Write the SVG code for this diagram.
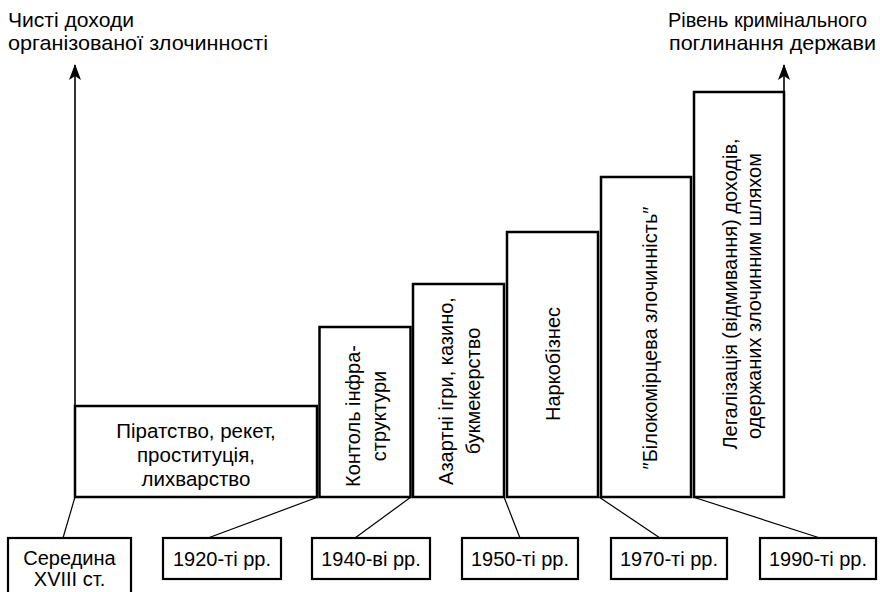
<svg xmlns="http://www.w3.org/2000/svg" width="880" height="592" viewBox="0 0 880 592">
<style>
text{font-family:"Liberation Sans",Arial,sans-serif;fill:#000}
.t{font-size:20px}
.b1{font-size:20.5px}
.h{font-size:21px}
.c{text-anchor:middle}
.box{fill:#fff;stroke:#000;stroke-width:2.5}
.lbl{fill:#fff;stroke:#000;stroke-width:2.2}
.ln{stroke:#000;stroke-width:1.2;fill:none}
.ax{stroke:#000;stroke-width:1.6;fill:none}
</style>
<defs>
<marker id="arr" viewBox="0 0 16 12" refX="15" refY="6" markerWidth="16" markerHeight="12" markerUnits="userSpaceOnUse" orient="auto">
<path d="M0,0 L16,6 L0,12 L4,6 Z" fill="#000"/>
</marker>
</defs>
<rect width="880" height="592" fill="#fff"/>
<g id="connectors">
<line class="ax" x1="75" y1="497" x2="75" y2="65" marker-end="url(#arr)"/>
<line class="ax" x1="784" y1="92" x2="784" y2="65" marker-end="url(#arr)"/>
<line class="ln" x1="75" y1="497" x2="63" y2="538"/>
<line class="ln" x1="318" y1="497" x2="208" y2="538"/>
<line class="ln" x1="411" y1="497" x2="355" y2="538"/>
<line class="ln" x1="504" y1="497" x2="520" y2="538"/>
<line class="ln" x1="599" y1="497" x2="660" y2="538"/>
<line class="ln" x1="693" y1="497" x2="820" y2="538"/>
</g>
<g id="axis-y-title">
<text class="h" x="8" y="27" textLength="126" lengthAdjust="spacingAndGlyphs">Чисті доходи</text>
<text class="h" x="8" y="50" textLength="260" lengthAdjust="spacingAndGlyphs">організованої злочинності</text>
</g>
<g id="axis-right-title">
<text class="h" x="668" y="27" textLength="199" lengthAdjust="spacingAndGlyphs">Рівень кримінального</text>
<text class="h" x="669" y="50" textLength="207" lengthAdjust="spacingAndGlyphs">поглинання держави</text>
</g>
<g id="box1">
<rect class="box" x="75" y="406" width="242" height="91"/>
<text class="b1 c" x="196" y="438">Піратство, рекет,</text>
<text class="b1 c" x="196" y="462">проституція,</text>
<text class="b1 c" x="196" y="486">лихварство</text>
</g>
<g id="box2">
<rect class="box" x="319.5" y="327" width="91" height="170"/>
<text class="t c" transform="translate(360,416) rotate(-90)">Контоль інфра-</text>
<text class="t c" transform="translate(386,416) rotate(-90)">структури</text>
</g>
<g id="box3">
<rect class="box" x="413" y="284" width="91" height="213"/>
<text class="t c" transform="translate(453,391) rotate(-90)">Азартні ігри, казино,</text>
<text class="t c" transform="translate(480,391) rotate(-90)">букмекерство</text>
</g>
<g id="box4">
<rect class="box" x="507" y="232" width="91" height="265"/>
<text class="t c" transform="translate(560,364) rotate(-90)">Наркобізнес</text>
</g>
<g id="box5">
<rect class="box" x="601" y="177" width="90" height="320"/>
<text class="t c" transform="translate(657,338) rotate(-90)">″Білокомірцева злочинність″</text>
</g>
<g id="box6">
<rect class="box" x="694" y="92" width="90" height="405"/>
<text class="t c" transform="translate(737,294) rotate(-90)">Легалізація (відмивання) доходів,</text>
<text class="t c" transform="translate(761,296) rotate(-90)">одержаних злочинним шляхом</text>
</g>
<g id="label-18c">
<rect class="lbl" x="8" y="538" width="123" height="60"/>
<text class="t c" x="69.5" y="565">Середина</text>
<text class="t c" x="69.5" y="586">XVIII ст.</text>
</g>
<g id="label-1920">
<rect class="lbl" x="163" y="538" width="118" height="41"/>
<text class="t c" x="222" y="566">1920-ті рр.</text>
</g>
<g id="label-1940">
<rect class="lbl" x="312" y="538" width="118" height="41"/>
<text class="t c" x="371" y="566">1940-ві рр.</text>
</g>
<g id="label-1950">
<rect class="lbl" x="462" y="538" width="116" height="41"/>
<text class="t c" x="520" y="566">1950-ті рр.</text>
</g>
<g id="label-1970">
<rect class="lbl" x="611" y="538" width="116" height="41"/>
<text class="t c" x="669" y="566">1970-ті рр.</text>
</g>
<g id="label-1990">
<rect class="lbl" x="760" y="538" width="116" height="41"/>
<text class="t c" x="818" y="566">1990-ті рр.</text>
</g>
</svg>
